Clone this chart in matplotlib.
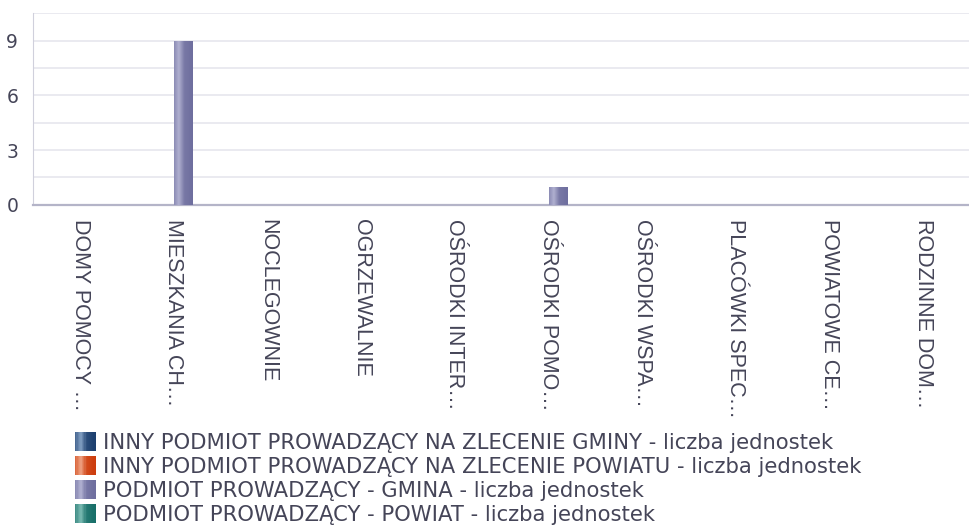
import numpy as np
import matplotlib
matplotlib.use("Agg")
import matplotlib.pyplot as plt
from matplotlib.colors import to_rgb
from matplotlib.patches import Patch, Rectangle
from matplotlib.legend_handler import HandlerBase

categories = [
    "DOMY POMOCY …",
    "MIESZKANIA CH…",
    "NOCLEGOWNIE",
    "OGRZEWALNIE",
    "OŚRODKI INTER…",
    "OŚRODKI POMO…",
    "OŚRODKI WSPA…",
    "PLACÓWKI SPEC…",
    "POWIATOWE CE…",
    "RODZINNE DOM…",
]
series_names = [
    "INNY PODMIOT PROWADZĄCY NA ZLECENIE GMINY - liczba jednostek",
    "INNY PODMIOT PROWADZĄCY NA ZLECENIE POWIATU - liczba jednostek",
    "PODMIOT PROWADZĄCY - GMINA - liczba jednostek",
    "PODMIOT PROWADZĄCY - POWIAT - liczba jednostek",
]
inny_gmina = [0, 0, 0, 0, 0, 0, 0, 0, 0, 0]
inny_powiat = [0, 0, 0, 0, 0, 0, 0, 0, 0, 0]
gmina = [0, 9, 0, 0, 0, 1, 0, 0, 0, 0]
powiat = [0, 0, 0, 0, 0, 0, 0, 0, 0, 0]
series_values = [inny_gmina, inny_powiat, gmina, powiat]

# (light stripe, body) for each series
colors = [("#7f9cc0", "#1c3f6e"), ("#eea080", "#cc3c0c"),
          ("#b0b0d0", "#6e6e9e"), ("#78b8b0", "#176e68")]

text_color = "#454558"


def shade_colors(light, dark, n=64):
    # cylinder-like shading across the bar: light stripe near the left edge
    light = np.array(to_rgb(light))
    dark = np.array(to_rgb(dark))
    t = np.linspace(0, 1, n)
    mix = np.interp(t, [0, 0.25, 0.55, 1], [0.45, 1.0, 0.15, 0.0])
    return dark[None, :] + (light - dark)[None, :] * mix[:, None]


def gradient_bar(ax, x0, h, w, light, dark):
    im = ax.imshow(shade_colors(light, dark)[None, :, :], aspect="auto",
                   extent=(x0, x0 + w, 0, h), zorder=3,
                   interpolation="bilinear")
    rect = Rectangle((x0, 0), w, h, transform=ax.transData,
                     facecolor="none", edgecolor="none")
    ax.add_patch(rect)
    im.set_clip_path(rect)


class GradientHandler(HandlerBase):
    def __init__(self, light, dark):
        super().__init__()
        self.light, self.dark = light, dark

    def create_artists(self, legend, orig_handle, xdescent, ydescent,
                       width, height, fontsize, trans):
        n = 16
        cols = shade_colors(self.light, self.dark, n)
        step = width / n
        return [Rectangle((-xdescent + k * step, -ydescent), step * 1.05,
                          height, facecolor=cols[k], edgecolor="none",
                          transform=trans) for k in range(n)]


fig = plt.figure(figsize=(9.7, 5.28), dpi=100)
ax = fig.add_axes([0.0345, 0.612, 0.9655, 0.363])

x = np.arange(len(categories))
width = 0.2

for i, vals in enumerate(series_values):
    for xi, v in zip(x, vals):
        if v > 0:
            x0 = xi - 2 * width + i * width
            gradient_bar(ax, x0, v, width, colors[i][0], colors[i][1])

ax.set_xlim(-0.5, len(categories) - 0.5)
ax.set_ylim(0, 10.5)
ax.set_yticks([0, 3, 6, 9])
ax.set_yticks(np.arange(0, 10.6, 1.5), minor=True)
ax.grid(True, axis="y", which="both", color="#e6e6ee", linewidth=1.2, zorder=0)
ax.set_axisbelow(True)
ax.tick_params(axis="y", which="both", length=0, labelsize=13.5,
               labelcolor=text_color, pad=11)
ax.set_xticks(x)
ax.set_xticklabels(categories, rotation=-90, fontsize=15.5,
                   family="Liberation Sans", color=text_color, va="top")
ax.tick_params(axis="x", length=0, pad=10)

for s in ["top", "right"]:
    ax.spines[s].set_visible(False)
ax.spines["left"].set_color("#d0d0dc")
ax.spines["bottom"].set_color("#b4b4c8")
ax.spines["bottom"].set_linewidth(1.6)

handles = [Patch(facecolor=c[1], edgecolor="none") for c in colors]
handler_map = {h: GradientHandler(c[0], c[1]) for h, c in zip(handles, colors)}
leg = fig.legend(handles, series_names, loc="upper left",
                 bbox_to_anchor=(0.0773, 0.182), frameon=False,
                 handler_map=handler_map,
                 prop={"family": "DejaVu Sans", "size": 15.2},
                 handlelength=1.0, handleheight=1.0, handletextpad=0.35,
                 labelspacing=0.16, borderpad=0, borderaxespad=0)
for t in leg.get_texts():
    t.set_color(text_color)

fig.savefig("out.png", dpi=100)
